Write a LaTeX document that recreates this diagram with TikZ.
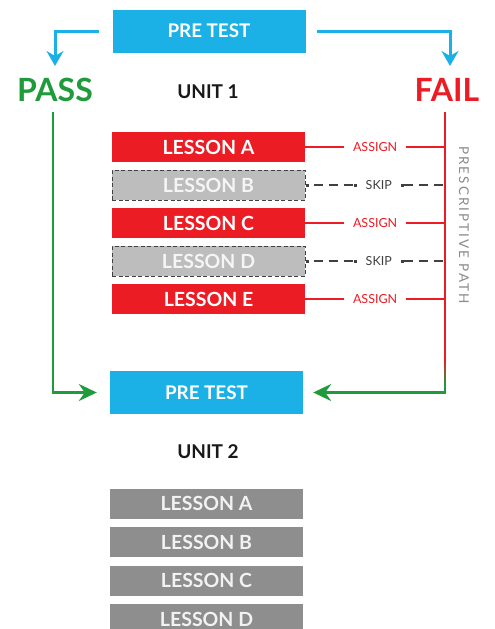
\documentclass[tikz,border=0pt]{standalone}
\usepackage{fontspec}
\setmainfont{Lato}
\usetikzlibrary{arrows.meta}
\definecolor{cyanbox}{HTML}{1CB1E6}
\definecolor{lred}{HTML}{EC1C24}
\definecolor{pgreen}{HTML}{1F9B3B}
\definecolor{skipgray}{HTML}{BDBDBD}
\definecolor{skipline}{HTML}{404040}
\definecolor{u2gray}{HTML}{8E8E8E}
\definecolor{pathgray}{HTML}{8A8A8A}
\begin{document}
\begin{tikzpicture}[x=1pt,y=-1pt,
  testbox/.style={fill=cyanbox, minimum width=193pt, minimum height=43pt, inner sep=0pt,
    text=white, font=\bfseries\fontsize{18.8}{22}\selectfont},
  lessonbase/.style={minimum width=193pt, minimum height=30pt, inner sep=0pt,
    font=\bfseries\fontsize{19.5}{22}\selectfont},
  redlesson/.style={lessonbase, fill=lred, text=white},
  skiplesson/.style={lessonbase, fill=skipgray, text=white!92!gray,
    draw=skipline, dash pattern=on 4pt off 2.5pt, line width=1pt},
  graylesson/.style={lessonbase, fill=u2gray, text=white!90!gray},
  unitlbl/.style={font=\bfseries\fontsize{19}{22}\selectfont, text=black!90},
  bigpass/.style={font=\bfseries\fontsize{32}{36}\selectfont, text=pgreen, inner sep=0pt},
  bigfail/.style={font=\bfseries\fontsize{32}{36}\selectfont, text=lred, inner sep=0pt},
  bluearr/.style={draw=cyanbox, line width=3pt,
    -{Stealth[length=15pt,width=17pt,inset=5pt]}},
  greenarr/.style={draw=pgreen, line width=2.4pt,
    -{Stealth[length=18pt,width=17pt,inset=6pt]}},
  assignline/.style={draw=lred, line width=1.6pt},
  assignlbl/.style={fill=white, inner xsep=9pt, inner ysep=1pt, text=lred,
    font=\fontsize{12.5}{14}\selectfont},
  skipln/.style={draw=skipline, line width=2.8pt, dash pattern=on 9pt off 6pt},
  skiplbl/.style={fill=white, inner xsep=8pt, inner ysep=1pt, text=skipline,
    font=\fontsize{12.5}{14}\selectfont},
]
\clip (0,0) rectangle (495,629);
\fill[white] (0,0) rectangle (495,629);

% top pre test
\node[testbox] (pt1) at (209,31) {PRE TEST};
\node[bigpass] (pass) at (55,90) {PASS};
\node[bigfail] (fail) at (447,90) {FAIL};
\node[unitlbl] (u1) at (208,92) {UNIT 1};

\coordinate (passin) at (55,66);
\coordinate (failin) at (450,66);
\draw[bluearr] ([xshift=-13pt]pt1.west) -| (passin);
\draw[bluearr] ([xshift=11pt]pt1.east) -| (failin);

% unit 1 lessons
\node[redlesson]  (la) at (208.5,147) {LESSON A};
\node[skiplesson] (lb) at (208.5,185) {LESSON B};
\node[redlesson]  (lc) at (208.5,223) {LESSON C};
\node[skiplesson] (ld) at (208.5,261) {LESSON D};
\node[redlesson]  (le) at (208.5,299) {LESSON E};

% bottom pre test
\node[testbox] (pt2) at (206.5,392.5) {PRE TEST};
\node[unitlbl] (u2) at (208,452) {UNIT 2};

% prescriptive path
\coordinate (vtop) at (445,112);
\coordinate (vmid) at (445,360);
\coordinate (vbot) at (445,384);
\coordinate (ptop) at (53,112);
\draw[draw=lred, line width=1.8pt] (vtop) -- (vmid);
\shade[top color=lred, bottom color=pgreen] (444.1,359) rectangle (445.9,385);
\draw[greenarr] (vbot) |- ([xshift=10pt]pt2.east);
\draw[greenarr] (ptop) |- ([xshift=-13pt]pt2.west);

\node[rotate=-90, text=pathgray, font=\fontsize{13.5}{15}\selectfont\addfontfeatures{LetterSpace=15}]
  (pp) at (464,225) {PRESCRIPTIVE PATH};

% assign lines
\foreach \n in {la,lc,le}{
  \draw[assignline] (\n.east) -- (\n.east -| vtop)
    node[midway, assignlbl] {ASSIGN};
}
% skip lines
\foreach \n in {lb,ld}{
  \draw[skipln] ([xshift=8pt]\n.east) -- ([xshift=-1pt]\n.east -| vtop)
    node[midway, skiplbl] (s\n) {SKIP};
  \fill[skipline] ([xshift=-1pt]s\n.west) ++(-1.5,-1.5) rectangle ++(3,3);
  \fill[skipline] ([xshift=1pt]s\n.east) ++(-1.5,-1.5) rectangle ++(3,3);
  \fill[skipline] ([xshift=2pt]\n.east) ++(-1.5,-1.5) rectangle ++(3,3);
}

% unit 2 lessons
\node[graylesson] (ga) at (206.5,503.5) {LESSON A};
\node[graylesson] (gb) at (206.5,542) {LESSON B};
\node[graylesson] (gc) at (206.5,580.5) {LESSON C};
\node[graylesson] (gd) at (206.5,619) {LESSON D};
\end{tikzpicture}
\end{document}
